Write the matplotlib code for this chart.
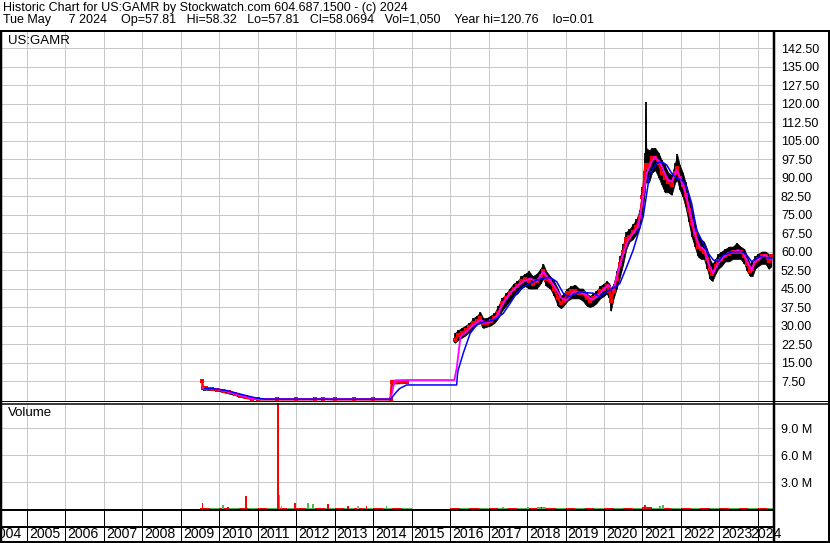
import matplotlib.pyplot as plt
import matplotlib.transforms as mtransforms
import numpy as np

plt.rcParams['font.family'] = ['Liberation Sans', 'DejaVu Sans']

W, H = 830, 543

# --- datos de precio (fecha decimal, alto, bajo, cierre) ---
px_x = [2009.55, 2009.57, 2009.65, 2009.8, 2009.95, 2010.1, 2010.25, 2010.4, 2010.55, 2010.7,
        2010.85, 2011.0, 2011.5, 2012.0, 2012.5, 2012.7, 2013.0, 2013.5, 2014.0, 2014.45,
        2014.48, 2014.6, 2014.75, 2014.88,
        2016.12, 2016.2, 2016.3, 2016.4, 2016.5, 2016.6, 2016.7, 2016.78, 2016.86, 2016.95,
        2017.05, 2017.15, 2017.25, 2017.35, 2017.45, 2017.55, 2017.65, 2017.75, 2017.85, 2017.95,
        2018.05, 2018.15, 2018.25, 2018.35, 2018.42, 2018.5, 2018.6, 2018.7, 2018.8, 2018.88,
        2018.95, 2019.05, 2019.15, 2019.25, 2019.35, 2019.45, 2019.55, 2019.63, 2019.72, 2019.8,
        2019.9, 2020.0, 2020.07, 2020.14, 2020.18, 2020.25, 2020.33, 2020.42, 2020.5, 2020.58,
        2020.66, 2020.75, 2020.84, 2020.93, 2021.0, 2021.06, 2021.08, 2021.1, 2021.17, 2021.25,
        2021.33, 2021.42, 2021.5, 2021.58, 2021.67, 2021.76, 2021.85, 2021.9, 2021.97, 2022.05,
        2022.12, 2022.2, 2022.28, 2022.36, 2022.44, 2022.52, 2022.6, 2022.68, 2022.75, 2022.82,
        2022.9, 2022.97, 2023.05, 2023.15, 2023.25, 2023.35, 2023.45, 2023.55, 2023.65, 2023.72,
        2023.8, 2023.86, 2023.93, 2024.0, 2024.1, 2024.2, 2024.28, 2024.35]
px_hi = [8.0, 5.2, 5.0, 4.7, 4.5, 4.2, 3.6, 3.0, 2.2, 1.5,
         0.8, 0.3, 0.2, 0.25, 0.3, 0.6, 0.2, 0.3, 0.2, 0.2,
         8.0, 7.6, 7.4, 7.3,
         27, 28, 29, 30, 31, 33, 34, 35.5, 33, 33,
         34, 35, 38, 41, 43, 45, 47, 48, 50, 51,
         52, 50, 51, 53, 55, 52, 50, 48, 45, 42,
         43, 45, 46, 46.5, 45, 45, 43, 42, 43, 44,
         46, 47, 48, 47, 45, 47, 52, 58, 63, 68,
         69, 71, 73, 77, 86, 100, 120.76, 102, 101, 102,
         102, 100, 97, 95, 92, 91, 96, 99.5, 95, 92,
         88, 83, 77, 72, 67, 65, 64, 61, 57, 55,
         57, 59, 60, 61, 62, 62, 63.5, 62, 61, 58,
         55, 56, 58, 59, 60, 60, 59, 58.3]
px_lo = [6.5, 3.8, 4.0, 3.8, 3.6, 3.0, 2.4, 1.8, 1.0, 0.5,
         0.2, 0.05, 0.05, 0.05, 0.05, 0.1, 0.05, 0.05, 0.05, 0.05,
         6.5, 6.5, 6.6, 6.7,
         23, 24, 25, 26, 27.5, 29, 30.5, 31, 29, 29.5,
         30, 31, 33, 36, 38, 40, 42, 43, 45, 46,
         45, 45, 45, 47, 49, 46, 45, 42, 38, 37,
         38, 40, 41, 41, 41, 40, 38, 37.5, 38, 39,
         41, 42, 43, 41, 36, 41, 45, 50, 55, 61,
         64, 65, 67, 70, 76, 84, 88, 88, 88, 92,
         93, 90, 87, 84, 84, 83, 88, 89, 85, 82,
         78, 72, 66, 62, 58, 57, 57, 53, 49, 48,
         51, 53, 54, 56, 56, 57, 57, 57, 55, 52,
         50, 50, 53, 54, 55, 55, 53, 54]
px_cl = [7.6, 4.6, 4.5, 4.3, 4.0, 3.6, 3.0, 2.3, 1.5, 0.9,
         0.4, 0.1, 0.1, 0.1, 0.15, 0.3, 0.1, 0.1, 0.1, 0.1,
         7.0, 7.0, 7.0, 7.0,
         24, 26, 27, 28, 29.5, 31, 32, 33, 31, 31,
         32, 33, 35, 39, 41, 43, 45, 46, 48, 49,
         48, 47, 48, 50, 52, 49, 48, 45, 41, 39,
         40, 43, 44, 44, 43, 43, 41, 40, 41, 42,
         44, 45, 46, 44, 40, 44, 49, 55, 60, 65,
         66, 68, 70, 74, 82, 92, 95, 94, 95, 98,
         98, 96, 92, 90, 88, 87, 92, 94, 90, 87,
         83, 77, 71, 67, 62, 61, 60, 57, 53, 51,
         54, 56, 57, 58, 59, 60, 60, 60, 58, 55,
         52, 53, 56, 57, 58, 58, 56, 58]

# media movil corta (magenta)
fast_x = [2009.57, 2009.8, 2010.0, 2010.2, 2010.4, 2010.6, 2010.8, 2011.0, 2012.0, 2013.0,
          2014.45, 2014.52, 2014.57, 2014.9, 2016.11, 2016.17, 2016.27, 2016.43, 2016.6, 2016.78,
          2016.9, 2017.04, 2017.21, 2017.38, 2017.56, 2017.73, 2017.9, 2018.08, 2018.25, 2018.42,
          2018.6, 2018.72, 2018.9, 2019.03, 2019.2, 2019.37, 2019.55, 2019.68, 2019.81, 2019.98,
          2020.11, 2020.24, 2020.33, 2020.5, 2020.63, 2020.76, 2020.89, 2020.98, 2021.11, 2021.24,
          2021.32, 2021.45, 2021.58, 2021.67, 2021.76, 2021.89, 2021.97, 2022.1, 2022.23, 2022.36,
          2022.49, 2022.62, 2022.75, 2022.84, 2022.97, 2023.1, 2023.23, 2023.36, 2023.49, 2023.62,
          2023.75, 2023.84, 2023.92, 2024.05, 2024.18, 2024.36]
fast_y = [4.8, 4.4, 4.0, 3.3, 2.4, 1.4, 0.6, 0.15, 0.1, 0.1,
          0.1, 5.0, 7.8, 7.9, 7.9, 12.6, 25.5, 27.5, 30.2, 32.2,
          31.5, 31.5, 33.6, 39.0, 43.1, 45.7, 47.8, 49.1, 47.8, 51.8,
          48.4, 45.7, 41.0, 40.3, 43.7, 43.7, 42.4, 40.3, 41.7, 44.4,
          46.4, 44.4, 49.8, 59.0, 64.7, 67.4, 70.1, 78.2, 91.7, 96.4,
          98.4, 96.4, 91.7, 89.0, 88.3, 93.0, 90.3, 84.9, 76.8, 67.4,
          61.9, 60.6, 53.8, 51.2, 55.2, 57.9, 59.3, 59.9, 60.6, 59.3,
          55.2, 52.5, 55.9, 57.2, 58.6, 56.6]

# media movil larga (azul)
slow_x = [2009.62, 2009.9, 2010.2, 2010.54, 2010.8, 2010.97, 2011.2, 2014.45, 2014.6, 2014.69,
          2014.87, 2016.17, 2016.19, 2016.21, 2016.34, 2016.52, 2016.69, 2016.86, 2017.04, 2017.21,
          2017.38, 2017.56, 2017.73, 2017.9, 2018.08, 2018.25, 2018.42, 2018.6, 2018.77, 2018.94,
          2019.07, 2019.2, 2019.37, 2019.55, 2019.72, 2019.89, 2020.07, 2020.24, 2020.41, 2020.59,
          2020.76, 2021.02, 2021.19, 2021.37, 2021.5, 2021.63, 2021.76, 2021.89, 2022.02, 2022.15,
          2022.28, 2022.41, 2022.58, 2022.71, 2022.84, 2022.97, 2023.1, 2023.36, 2023.58, 2023.71,
          2023.84, 2024.05, 2024.36]
slow_y = [4.6, 4.3, 3.6, 2.2, 1.2, 0.6, 0.15, 0.1, 3.0, 4.5,
          5.9, 5.9, 10.0, 12.0, 18.7, 26.8, 30.2, 31.5, 31.8, 32.9,
          34.9, 39.0, 43.1, 45.7, 47.1, 48.4, 49.1, 49.5, 47.8, 43.1,
          41.7, 42.4, 43.7, 43.3, 43.1, 41.7, 43.7, 45.1, 47.0, 53.8,
          60.6, 74.1, 91.7, 95.8, 96.4, 95.1, 91.7, 89.7, 89.0, 86.3,
          79.5, 68.7, 63.3, 59.3, 56.6, 55.9, 58.6, 59.9, 59.9, 58.6,
          55.9, 57.9, 57.2]

# volumen (millones): barras destacadas
vol_x = [2009.56, 2010.09, 2010.22, 2010.69, 2011.53, 2011.56, 2011.62, 2011.97, 2012.31, 2012.44,
         2012.83, 2013.34, 2013.61, 2013.83, 2014.35, 2017.38, 2018.03, 2018.38, 2021.06, 2021.45,
         2021.54]
vol_v = [0.7, 0.45, 0.2, 1.4, 14.0, 1.55, 0.3, 0.65, 0.7, 0.55,
         0.6, 0.33, 0.3, 0.3, 0.3, 0.26, 0.22, 0.25, 0.45, 0.3,
         0.4]
vol_dir = ['d', 'u', 'd', 'd', 'd', 'u', 'n', 'd', 'u', 'u',
           'd', 'd', 'n', 'd', 'u', 'u', 'u', 'd', 'd', 'u',
           'u']
# volumen de fondo por trimestre
base_x = [2009.625, 2009.875, 2010.125, 2010.375, 2010.625, 2010.875, 2011.125, 2011.375, 2011.625,
          2011.875, 2012.125, 2012.375, 2012.625, 2012.875, 2013.125, 2013.375, 2013.625, 2013.875,
          2014.125, 2014.375, 2014.625, 2014.875,
          2016.125, 2016.375, 2016.625, 2016.875, 2017.125, 2017.375, 2017.625, 2017.875, 2018.125,
          2018.375, 2018.625, 2018.875, 2019.125, 2019.375, 2019.625, 2019.875, 2020.125, 2020.375,
          2020.625, 2020.875, 2021.125, 2021.375, 2021.625, 2021.875, 2022.125, 2022.375, 2022.625,
          2022.875, 2023.125, 2023.375, 2023.625, 2023.875, 2024.125, 2024.375]
base_v = [0.15, 0.12, 0.14, 0.1, 0.13, 0.12, 0.16, 0.14, 0.12, 0.1, 0.13, 0.15, 0.12, 0.11,
          0.12, 0.14, 0.13, 0.12, 0.12, 0.13, 0.1, 0.06,
          0.12, 0.13, 0.12, 0.14, 0.13, 0.15, 0.14, 0.16, 0.15, 0.17, 0.13, 0.12, 0.12, 0.13,
          0.12, 0.12, 0.14, 0.13, 0.15, 0.16, 0.18, 0.16, 0.14, 0.13, 0.12, 0.13, 0.12, 0.12,
          0.13, 0.12, 0.12, 0.13, 0.12, 0.1]

years = list(range(2004, 2025))
price_ticks = [7.5, 15.0, 22.5, 30.0, 37.5, 45.0, 52.5, 60.0, 67.5, 75.0,
               82.5, 90.0, 97.5, 105.0, 112.5, 120.0, 127.5, 135.0, 142.5]
vol_ticks = [3.0, 6.0, 9.0]

title1 = 'Historic Chart for US:GAMR by Stockwatch.com 604.687.1500 - (c) 2024'
title2 = ('Tue May     7 2024    Op=57.81   Hi=58.32   Lo=57.81   Cl=58.0694   Vol=1,050    '
          'Year hi=120.76    lo=0.01')

GRID = '#c8c8c8'
DIR_COL = {'u': '#4fb84f', 'd': '#ff0000', 'n': '#a0a0a0'}
PX = 0.72  # 1 pixel en puntos a 100 dpi


def box(x0, y0, x1, y1):
    # rectangulo en pixeles (origen arriba-izquierda) -> coordenadas de figura
    return [x0 / W, 1 - y1 / H, (x1 - x0) / W, (y1 - y0) / H]


fig = plt.figure(figsize=(W / 100, H / 100), dpi=100)
fig.patch.set_facecolor('white')

ax_main = fig.add_axes(box(2, 32, 774, 401))
ax_vol = fig.add_axes(box(2, 403, 774, 509), sharex=ax_main)
ax_bot = fig.add_axes(box(2, 510, 774, 541), sharex=ax_main)

x_left, x_right = 2004.35, 2024.42
ax_main.set_xlim(x_left, x_right)
ax_main.set_ylim(-0.6, 149.0)
ax_vol.set_ylim(0, 11.8)
ax_bot.set_ylim(0, 1)

# --- grid ---
for ax in (ax_main, ax_vol):
    for s in ax.spines.values():
        s.set_visible(False)
    ax.set_xticks(years[1:])
    ax.grid(True, color=GRID, lw=PX, zorder=0)
    ax.tick_params(axis='x', length=0, labelbottom=False)
    ax.yaxis.tick_right()
    ax.tick_params(axis='y', length=0, pad=5, labelsize=9, labelcolor='black')
    ax.set_axisbelow(True)

ax_main.set_yticks(price_ticks)
ax_main.set_yticklabels([f'{v:.2f}' for v in price_ticks])
ax_vol.set_yticks(vol_ticks)
ax_vol.set_yticklabels([f'{v:.1f} M' for v in vol_ticks])

# --- precio ---
x = np.array(px_x)
hi = np.array(px_hi)
lo = np.array(px_lo)
cl = np.array(px_cl)
cuts = np.where(np.diff(x) > 0.5)[0] + 1
for seg in np.split(np.arange(len(x)), cuts):
    ax_main.fill_between(x[seg], lo[seg], hi[seg], color='black', lw=0.5, zorder=2)
    ax_main.plot(x[seg], cl[seg], color='#ff0000', lw=1.6, zorder=3)
ax_main.vlines(x, lo, hi, color='black', lw=1.2, zorder=2)
ax_main.plot(x, cl, 's', color='#ff0000', ms=2.2, mew=0, zorder=3)
ax_main.plot(fast_x, fast_y, color='#ff00ff', lw=1.3, zorder=4)
ax_main.plot(slow_x, slow_y, color='#0000ff', lw=1.1, zorder=5)

# --- volumen ---
ax_vol.bar(base_x, base_v, width=0.25,
           color=['#ff0000' if i % 2 == 0 else '#4fb84f' for i in range(len(base_x))],
           zorder=2)
ax_vol.bar(vol_x, vol_v, width=0.04, color=[DIR_COL[d] for d in vol_dir], zorder=3)

# --- fila de anios ---
ax_bot.axis('off')
for yr in years[1:]:
    ax_bot.axvline(yr, color='black', lw=PX)
ax_bot.axhline((541 - 527) / 31, color='black', lw=2 * PX)
trans = mtransforms.blended_transform_factory(ax_bot.transData, ax_bot.transAxes)
for yr in years[:-1]:
    ax_bot.text(yr + 0.05, 0.24, str(yr), transform=trans, fontsize=10.2,
                ha='left', va='center', clip_on=False)
# el ultimo anio se ajusta al borde derecho
ax_bot.text(x_right + 0.21, 0.24, str(years[-1]), transform=trans, fontsize=10.2,
            ha='right', va='center', clip_on=False)

# --- textos ---
fig.text(3 / W, 1 - 8 / H, title1, fontsize=9, va='center', ha='left')
fig.text(3 / W, 1 - 20 / H, title2, fontsize=9, va='center', ha='left')
fig.text(8 / W, 1 - 41 / H, 'US:GAMR', fontsize=9.5, va='center', ha='left')
fig.text(8 / W, 1 - 413 / H, 'Volume', fontsize=9.5, va='center', ha='left')

# --- marco ---
frame = fig.add_axes([0, 0, 1, 1], zorder=10)
frame.set_xlim(0, W)
frame.set_ylim(H, 0)
frame.axis('off')
frame.patch.set_alpha(0)
lines = [
    ((0, W), (31, 31), 2),
    ((1, 1), (31, H), 2.5),
    ((774, 774), (31, H), 2.5),
    ((829, 829), (31, H), 2),
    ((0, W), (401, 401), 1),
    ((0, W), (404, 404), 1.5),
    ((0, 774), (509.5, 509.5), 2),
    ((0, W), (541.5, 541.5), 2),
]
for xs, ys, w in lines:
    frame.plot(xs, ys, color='black', lw=w * PX, solid_capstyle='butt')

fig.savefig('out.png', dpi=100)
